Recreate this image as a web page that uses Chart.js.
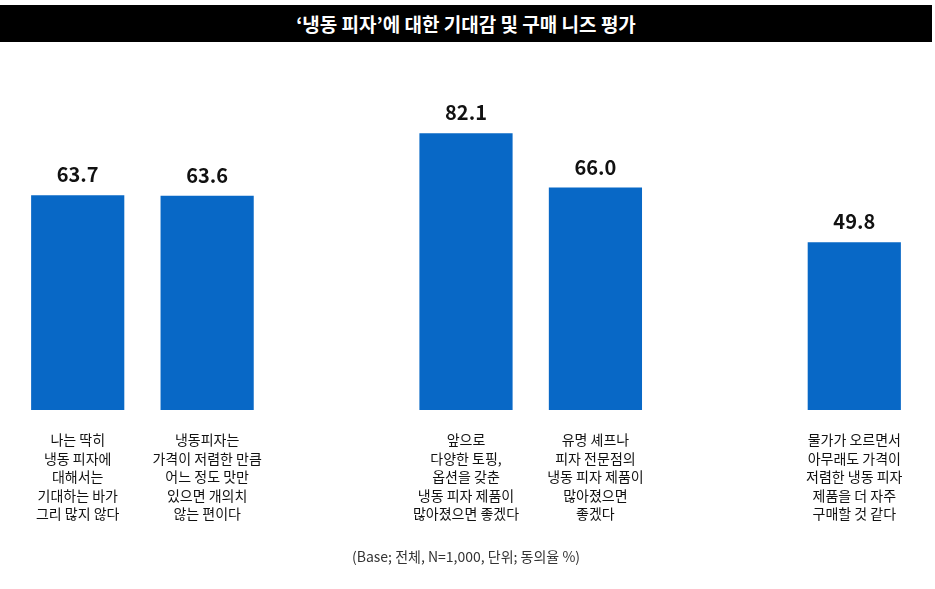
<!DOCTYPE html>
<html><head><meta charset="utf-8">
<script src="https://cdn.jsdelivr.net/npm/chart.js@4"></script>
<style>
body{margin:0;width:935px;height:589px;background:#fff;overflow:hidden;font-family:"Noto Sans CJK KR",sans-serif}
#title{position:absolute;left:0;top:5px;width:932px;height:37px;background:#000;color:#fff;font-size:19px;font-weight:bold;text-align:center;line-height:37px}
#wrap{position:absolute;left:0;top:0;width:935px;height:589px}
</style></head><body>
<div id="wrap"><canvas id="c" width="935" height="589"></canvas></div>
<div id="title">‘냉동 피자’에 대한 기대감 및 구매 니즈 평가</div>
<script>
const categories=[
 ["나는 딱히","냉동 피자에","대해서는","기대하는 바가","그리 많지 않다"],
 ["냉동피자는","가격이 저렴한 만큼","어느 정도 맛만","있으면 개의치","않는 편이다"],
 [],
 ["앞으로","다양한 토핑,","옵션을 갖춘","냉동 피자 제품이","많아졌으면 좋겠다"],
 ["유명 셰프나","피자 전문점의","냉동 피자 제품이","많아졌으면","좋겠다"],
 [],
 ["물가가 오르면서","아무래도 가격이","저렴한 냉동 피자","제품을 더 자주","구매할 것 같다"]
];
const values=[63.7,63.6,null,82.1,66.0,null,49.8];
const footer="(Base; 전체, N=1,000, 단위; 동의율 %)";
const F='"Noto Sans CJK KR", sans-serif';
const plug={id:'p',afterDatasetsDraw(ch){
 const ctx=ch.ctx,x=ch.scales.x,y=ch.scales.y;
 ctx.save();ctx.textAlign='center';ctx.fillStyle='#111';
 values.forEach((v,i)=>{
  const px=x.getPixelForValue(i);
  if(v!=null){ctx.font='bold 20px '+F;ctx.textBaseline='alphabetic';
   ctx.fillText(v.toFixed(1),px,y.getPixelForValue(v)-13);}
  ctx.font='14px '+F;ctx.textBaseline='middle';
  categories[i].forEach((l,j)=>ctx.fillText(l,px,440+j*18.5));
 });
 ctx.font='14px '+F;ctx.fillStyle='#333';ctx.fillText(footer,466,557);
 ctx.restore();}};
new Chart(document.getElementById('c'),{type:'bar',
 data:{labels:categories.map((c,i)=>String(i)),datasets:[{data:values,backgroundColor:'#0868c6',barPercentage:0.72,categoryPercentage:1}]},
 options:{responsive:false,animation:false,devicePixelRatio:1,
  layout:{padding:{top:73,bottom:179,left:13,right:16}},
  plugins:{legend:{display:false},tooltip:{enabled:false}},
  scales:{x:{display:false},y:{display:false,min:0,max:100}}},
 plugins:[plug]});
</script>
</body></html>
